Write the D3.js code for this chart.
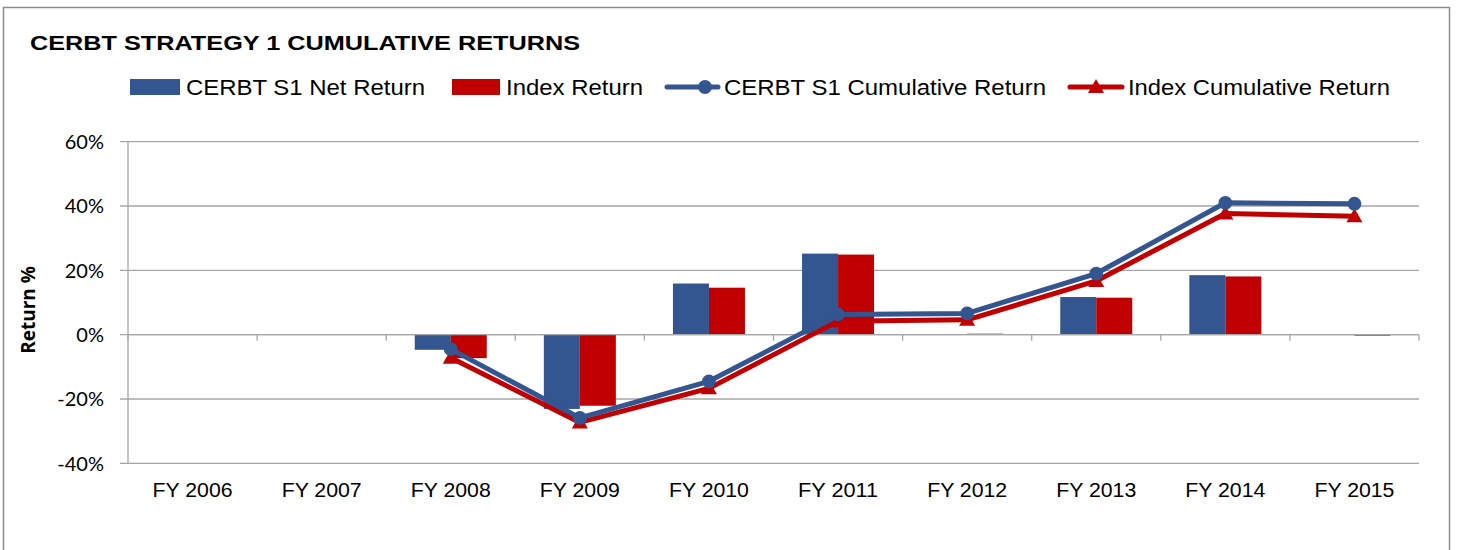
<!DOCTYPE html>
<html><head><meta charset="utf-8">
<script src="https://cdn.jsdelivr.net/npm/d3@7"></script>
<style>body{margin:0;background:#fff}svg{display:block}</style>
</head><body>
<svg id="c" width="1457" height="550"></svg>
<script>
const categories = ["FY 2006","FY 2007","FY 2008","FY 2009","FY 2010","FY 2011","FY 2012","FY 2013","FY 2014","FY 2015"];
const netReturn = [null,null,-4.7,-23.1,15.9,25.2,0.1,11.7,18.5,0.0];
const indexReturn = [null,null,-7.3,-22.1,14.6,24.9,0.3,11.5,18.1,-0.3];
const cumNet = [null,null,-4.5,-25.9,-14.5,6.3,6.6,19.0,41.0,40.7];
const cumIndex = [null,null,-7.2,-27.3,-16.7,4.2,4.6,16.7,37.7,36.8];
const yTicks = [-40,-20,0,20,40,60];
const title = "CERBT STRATEGY 1 CUMULATIVE RETURNS";
const legendLabels = ["CERBT S1 Net Return","Index Return","CERBT S1 Cumulative Return","Index Cumulative Return"];
const yTitle = "Return %";

const blue = "#335590", red = "#C00000", grid = "#A6A6A6";
const svg = d3.select("#c");
const L = 128, R = 1419, T = 141.7, B = 463.3;

svg.append("rect").attr("x",3.5).attr("y",7.5).attr("width",1446).attr("height",560)
  .attr("fill","none").attr("stroke","#8c8c8c").attr("stroke-width",1.5);

const x = d3.scaleBand().domain(categories).range([L,R]).paddingInner(0).paddingOuter(0);
const y = d3.scaleLinear().domain([-40,60]).range([B,T]);

// gridlines
svg.append("g").selectAll("line").data(yTicks).join("line")
  .attr("x1",L-8).attr("x2",R).attr("y1",d=>y(d)).attr("y2",d=>y(d))
  .attr("stroke",grid).attr("stroke-width",1.3);
svg.append("line").attr("x1",L).attr("x2",L).attr("y1",T).attr("y2",B).attr("stroke",grid).attr("stroke-width",1.3);

// y labels
svg.append("g").selectAll("text").data(yTicks).join("text")
  .attr("x",104).attr("y",d=>y(d)).attr("dy","0.36em").attr("text-anchor","end")
  .attr("font-family","Lato, 'Open Sans', sans-serif").attr("font-size",20).attr("fill","#000")
  .text(d=>d+"%");
svg.append("text").attr("transform",`translate(35,${310}) rotate(-90)`).attr("text-anchor","middle")
  .attr("font-family","'Open Sans', Lato, sans-serif").attr("font-weight","bold").attr("font-size",19).text(yTitle);

// bars
const bw = 36;
function bar(vals,off,col){
  svg.append("g").selectAll("rect").data(categories.map((c,i)=>({c,v:vals[i]})).filter(d=>d.v!==null)).join("rect")
    .attr("x",d=>x(d.c)+x.bandwidth()/2+off).attr("width",bw)
    .attr("y",d=>y(Math.max(0,d.v))).attr("height",d=>Math.abs(y(d.v)-y(0)))
    .attr("fill",col);
}
bar(netReturn,-bw,blue);
bar(indexReturn,0,red);

// x axis at zero
svg.append("line").attr("x1",L).attr("x2",R).attr("y1",y(0)).attr("y2",y(0)).attr("stroke",grid).attr("stroke-width",1.3);
const bounds = d3.range(categories.length+1).map(i=>L+i*x.bandwidth());
svg.append("g").selectAll("line").data(bounds).join("line")
  .attr("x1",d=>d).attr("x2",d=>d).attr("y1",y(0)).attr("y2",y(0)+6).attr("stroke",grid).attr("stroke-width",1.3);
svg.append("g").selectAll("text").data(categories).join("text")
  .attr("x",d=>x(d)+x.bandwidth()/2).attr("y",497).attr("text-anchor","middle")
  .attr("font-family","Liberation Sans, Arial, sans-serif").attr("font-size",20)
  .attr("textLength",80).attr("lengthAdjust","spacingAndGlyphs").text(d=>d);

// lines
const cx = i=>x(categories[i])+x.bandwidth()/2;
function series(vals,col,marker){
  const pts = vals.map((v,i)=>({i,v})).filter(d=>d.v!==null);
  svg.append("path").datum(pts).attr("fill","none").attr("stroke",col).attr("stroke-width",5)
    .attr("stroke-linejoin","round")
    .attr("d",d3.line().x(d=>cx(d.i)).y(d=>y(d.v)));
  svg.append("g").selectAll("path").data(pts).join("path")
    .attr("transform",d=>`translate(${cx(d.i)},${y(d.v)})`).attr("fill",col)
    .attr("d",marker);
}
const circ = d3.symbol(d3.symbolCircle,150)();
const tri = "M0,-8L8,6L-8,6Z";
series(cumIndex,red,tri);
series(cumNet,blue,circ);

// title
svg.append("text").attr("x",30).attr("y",50).attr("font-family","Liberation Sans, Arial, sans-serif")
  .attr("font-weight","bold").attr("font-size",20).attr("textLength",550).attr("lengthAdjust","spacingAndGlyphs").text(title);

// legend
const lg = svg.append("g").attr("font-family","Liberation Sans, Arial, sans-serif").attr("font-size",22);
const ly = 87;
lg.append("rect").attr("x",130).attr("y",ly-8).attr("width",50).attr("height",16).attr("fill",blue);
lg.append("text").attr("x",186).attr("y",ly).attr("dy","0.36em").attr("textLength",239).attr("lengthAdjust","spacingAndGlyphs").text(legendLabels[0]);
lg.append("rect").attr("x",452).attr("y",ly-8).attr("width",48).attr("height",16).attr("fill",red);
lg.append("text").attr("x",506).attr("y",ly).attr("dy","0.36em").attr("textLength",137).attr("lengthAdjust","spacingAndGlyphs").text(legendLabels[1]);
lg.append("line").attr("x1",667).attr("x2",718).attr("y1",ly).attr("y2",ly).attr("stroke",blue).attr("stroke-width",5).attr("stroke-linecap","round");
lg.append("path").attr("transform",`translate(705,${ly})`).attr("d",circ).attr("fill",blue);
lg.append("text").attr("x",724).attr("y",ly).attr("dy","0.36em").attr("textLength",322).attr("lengthAdjust","spacingAndGlyphs").text(legendLabels[2]);
lg.append("line").attr("x1",1070).attr("x2",1122).attr("y1",ly).attr("y2",ly).attr("stroke",red).attr("stroke-width",5).attr("stroke-linecap","round");
lg.append("path").attr("transform",`translate(1096,${ly})`).attr("d",tri).attr("fill",red);
lg.append("text").attr("x",1128).attr("y",ly).attr("dy","0.36em").attr("textLength",262).attr("lengthAdjust","spacingAndGlyphs").text(legendLabels[3]);
</script>
</body></html>
